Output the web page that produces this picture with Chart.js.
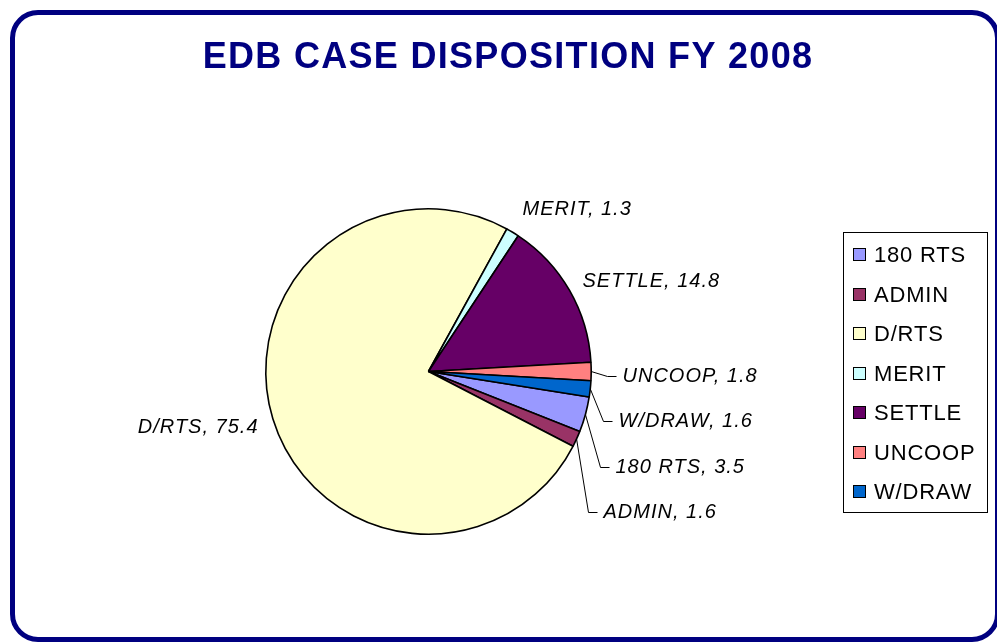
<!DOCTYPE html>
<html>
<head>
<meta charset="utf-8">
<script src="https://cdn.jsdelivr.net/npm/chart.js@4/dist/chart.umd.min.js"></script>
<style>
  html, body { margin: 0; padding: 0; background: #ffffff; width: 997px; height: 642px; overflow: hidden; }
  #frame { position: absolute; left: 10px; top: 10px; width: 990px; height: 632px; box-sizing: border-box;
           border: 5px solid #000080; border-radius: 28px; }
  #c { position: absolute; left: 0; top: 0; }
</style>
</head>
<body>
<div id="frame"></div>
<canvas id="c" width="997" height="642"></canvas>
<script>
// ---- data ----
const chartTitle = 'EDB CASE DISPOSITION FY 2008';
const categories = ['180 RTS', 'ADMIN', 'D/RTS', 'MERIT', 'SETTLE', 'UNCOOP', 'W/DRAW'];
const values = [3.5, 1.6, 75.4, 1.3, 14.8, 1.8, 1.6];
const colors = ['#9999FF', '#993366', '#FFFFCC', '#CCFFFF', '#660066', '#FF8080', '#0066CC'];

// ---- label layout (offset from pie centre to text baseline anchor) ----
const labelLayout = [
  [187, 101, 'left'],
  [175, 146, 'left'],
  [-170, 61, 'right'],
  [94, -157, 'left'],
  [154, -85, 'left'],
  [194, 10, 'left'],
  [190, 55, 'left']
];
const hasLeader = [true, true, false, false, false, true, true];

const FONT = '"Liberation Sans", Arial, Helvetica, sans-serif';

const decorPlugin = {
  id: 'decor',
  afterDatasetsDraw(chart) {
    const ctx = chart.ctx;
    const meta = chart.getDatasetMeta(0);
    ctx.save();
    // slice labels
    ctx.font = 'italic 20px ' + FONT;
    ctx.letterSpacing = '1px';
    ctx.fillStyle = '#000000';
    ctx.strokeStyle = '#000000';
    ctx.lineWidth = 1;
    ctx.textBaseline = 'alphabetic';
    meta.data.forEach((arc, i) => {
      const p = arc.getProps(['x', 'y', 'startAngle', 'endAngle', 'outerRadius'], true);
      const mid = (p.startAngle + p.endAngle) / 2;
      const ex = p.x + Math.cos(mid) * p.outerRadius;
      const ey = p.y + Math.sin(mid) * p.outerRadius;
      const [dx, dy, align] = labelLayout[i];
      const lx = p.x + dx, ly = p.y + dy;
      if (hasLeader[i]) {
        const yy = Math.round(ly - 6) + 0.5;
        ctx.beginPath();
        ctx.moveTo(ex, ey);
        ctx.lineTo(lx - 15, yy);
        ctx.lineTo(lx - 6, yy);
        ctx.stroke();
      }
      ctx.textAlign = align;
      ctx.fillText(categories[i] + ', ' + values[i], lx, ly);
    });

    // legend
    const lg = { left: 843.5, top: 232.5, w: 144, h: 280 };
    ctx.strokeStyle = '#000000';
    ctx.lineWidth = 1;
    ctx.strokeRect(lg.left, lg.top, lg.w, lg.h);
    ctx.font = '22px ' + FONT;
    ctx.letterSpacing = '0.8px';
    ctx.textAlign = 'left';
    categories.forEach((name, i) => {
      const cy = 254 + i * 39.5;
      const by = Math.round(cy - 6) + 0.5;
      ctx.fillStyle = colors[i];
      ctx.fillRect(853.5, by, 12, 12);
      ctx.strokeRect(853.5, by, 12, 12);
      ctx.fillStyle = '#000000';
      ctx.fillText(name, 874, cy + 8);
    });

    // title
    ctx.font = 'bold 36px ' + FONT;
    ctx.letterSpacing = '1.3px';
    ctx.fillStyle = '#000080';
    ctx.textAlign = 'center';
    ctx.fillText(chartTitle, 508, 68);
    ctx.restore();
  }
};

new Chart(document.getElementById('c'), {
  type: 'pie',
  data: {
    labels: categories,
    datasets: [{
      data: values,
      backgroundColor: colors,
      borderColor: '#000000',
      borderWidth: 1.6
    }]
  },
  options: {
    responsive: false,
    devicePixelRatio: 1,
    animation: false,
    events: [],
    rotation: 99,
    layout: { padding: { left: 265, right: 405, top: 208, bottom: 107 } },
    plugins: {
      legend: { display: false },
      title: { display: false },
      tooltip: { enabled: false }
    }
  },
  plugins: [decorPlugin]
});
</script>
</body>
</html>
